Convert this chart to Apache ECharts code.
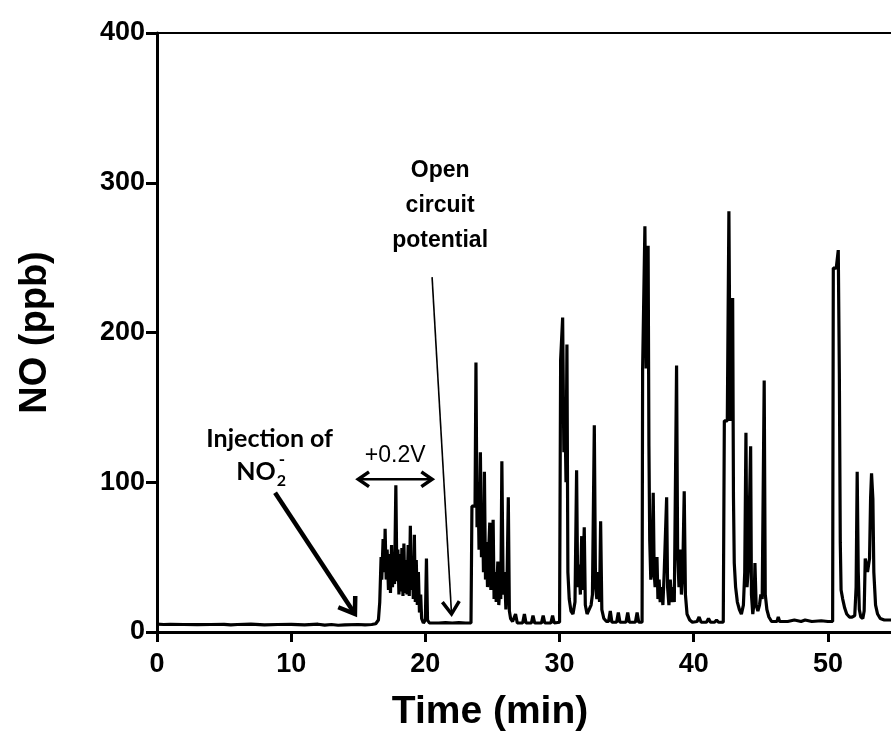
<!DOCTYPE html>
<html><head><meta charset="utf-8">
<script src="https://cdn.jsdelivr.net/npm/echarts@6/dist/echarts.min.js"></script>
<style>html,body{margin:0;padding:0;background:#fff}#c{width:891px;height:753px}</style>
</head><body><div id="c"></div>
<script>
// ---- data ----
const timeMin = [
0,0.5,1,2,3,4,5,5.5,6,7,8,9,10,11,12,12.5,13,13.5,14,15,15.5,16,16.3,16.5,
16.6,16.7,16.75,16.85,16.95,17.0,17.08,17.15,17.25,17.32,17.4,17.48,17.55,17.62,17.7,17.8,17.88,17.95,18.03,18.1,18.18,18.25,18.33,18.4,18.47,18.55,18.63,18.72,18.8,18.88,18.95,19.02,19.1,19.18,19.25,19.32,19.4,19.48,19.56,19.65,19.72,19.85,20.0,20.08,20.16,20.3,20.6,
21,21.5,22,22.5,23,23.4,
23.47,23.7,23.77,23.85,23.92,24.0,24.1,24.18,24.25,24.33,24.4,24.48,24.55,24.63,24.72,24.8,24.88,24.96,25.05,25.12,25.2,25.28,25.4,25.47,25.55,25.62,25.7,25.8,25.9,26.0,26.08,26.18,26.26,26.35,26.5,26.6,26.72,26.85,27.25,27.38,27.5,27.9,28.02,28.15,28.65,28.78,28.9,29.35,29.48,29.6,30.0,
30.08,30.23,30.32,30.4,30.48,30.55,30.62,30.72,30.85,31.0,31.15,31.27,31.35,31.45,31.55,31.65,31.72,31.84,31.92,32.05,32.2,32.35,32.45,32.59,32.68,32.78,32.88,32.98,33.06,33.15,33.3,33.5,33.65,33.78,33.9,34.25,34.38,34.5,34.95,35.08,35.2,35.65,35.78,35.9,36.15,
36.19,36.36,36.45,36.6,36.66,36.72,36.8,36.88,36.98,37.05,37.12,37.26,37.33,37.42,37.5,37.6,37.7,37.8,37.98,38.05,38.15,38.25,38.35,38.45,38.55,38.72,38.8,38.9,39.0,39.08,39.18,39.29,39.38,39.5,39.7,39.9,40.25,40.4,40.55,40.95,41.1,41.25,41.55,41.7,41.85,42.2,
42.28,42.5,42.62,42.72,42.8,42.9,42.96,43.02,43.12,43.25,43.4,43.55,43.7,43.8,43.89,43.97,44.05,44.13,44.24,44.3,44.4,44.5,44.56,44.65,44.78,44.9,45.0,45.1,45.25,45.33,45.45,45.6,45.8,46.2,46.3,46.4,47,47.5,48.0,48.3,48.8,49.5,50,50.35,
50.4,50.62,50.77,50.85,50.92,50.98,51.1,51.25,51.4,51.6,51.8,52.0,52.1,52.18,52.26,52.34,52.45,52.6,52.7,52.78,52.85,52.95,53.1,53.18,53.25,53.35,53.42,53.55,53.7,53.9,54.2,54.7
];
const noPpb = [
5.2,5,5.1,5,4.9,5,5.1,4.7,5,5.2,4.8,5,5.1,4.8,5.2,4.6,5,4.5,4.8,5,4.7,5,5.5,8,
20,50,35,62,40,69,35,55,28,52,26,58,30,50,32,98,34,55,25,52,27,56,24,59,26,48,25,58,24,71,28,50,22,65,20,48,18,40,13,25,9,6,8,49,8,6,6,
6,6.3,6,6.2,6,6,
84,84,180,70,100,55,120,50,85,40,107,35,60,30,55,73,28,50,75,22,40,20,47,18,30,22,114,25,40,15,30,90,14,9,7,6,12,6,6,12,6,6,11,6,6,11,6,6,11,6,6.5,
182,210,120,150,100,192,40,22,14,12,20,108,30,45,25,64,28,70,18,12,15,18,25,138,30,22,40,20,74,15,9,7,7,14,6.5,6.5,13,6.5,6.5,13,6.5,6.5,13,6.5,6.5,
176,271,176,258,124,61,35,40,93,40,30,50,22,35,20,30,18,40,90,30,18,35,20,30,20,178,53,30,55,25,40,94,25,12,8,6.5,7,10,6.5,6.5,9,6.5,6.5,8,6.5,6.5,
141,141,281,141,160,223,90,46,30,20,15,12,18,40,133,30,40,75,124,25,12,20,46,18,14,18,25,22,168,25,15,10,7,7,10,7,7,8,7,8,7,7.5,7,7,
243,243,255,173,60,28,22,16,12,10,10,11,30,107,40,15,10,9,14,49,49,40,49,90,106,89,40,18,12,9,8,8
];
const xTickValues = [0, 10, 20, 30, 40, 50];
const yTickValues = [0, 100, 200, 300, 400];
const xLabel = 'Time (min)';
const yLabel = 'NO (ppb)';
// annotation anchors in data units [time, NO]
const injTextAt = [8.4, 129];
const injSubAt = [8.4, 107];
const injArrow = [[8.8, 93], [14.75, 12]];
const biasTextAt = [17.75, 118];
const biasArrow = [[15.0, 102], [20.5, 102]];
const ocpLines = ['Open', 'circuit', 'potential'];
const ocpTextAt = [[21.1, 308], [21.1, 285], [21.1, 261]];
const ocpArrow = [[20.5, 237], [21.95, 12]];

const chart = echarts.init(document.getElementById('c'));
const FONT = 'Liberation Sans, Arial, sans-serif';
chart.setOption({
  animation: false,
  backgroundColor: '#fff',
  grid: { left: 157, right: 0, top: 33, bottom: 121, containLabel: false },
  xAxis: [{
    type: 'value', min: 0, max: 54.7, interval: 10,
    name: xLabel, nameLocation: 'middle', nameGap: 61,
    nameTextStyle: { fontFamily: FONT, fontWeight: 'bold', fontSize: 39, color: '#000', padding: [0, 68, 0, 0] },
    axisLine: { show: true, onZero: false, lineStyle: { color: '#000', width: 3 } },
    axisTick: { show: true, length: 10, customValues: xTickValues, lineStyle: { color: '#000', width: 3 } },
    axisLabel: { customValues: xTickValues, margin: 19, fontFamily: FONT, fontWeight: 'bold', fontSize: 27, color: '#000' },
    splitLine: { show: false }
  }, {
    type: 'value', position: 'top', min: 0, max: 54.7,
    axisLine: { show: true, onZero: false, lineStyle: { color: '#000', width: 2 } },
    axisTick: { show: false }, axisLabel: { show: false }, splitLine: { show: false }
  }],
  yAxis: {
    type: 'value', min: 0, max: 400, interval: 100,
    name: yLabel, nameLocation: 'middle', nameGap: 102,
    nameTextStyle: { fontFamily: FONT, fontWeight: 'bold', fontSize: 38, color: '#000' },
    axisLine: { show: true, onZero: false, lineStyle: { color: '#000', width: 3 } },
    axisTick: { show: true, length: 11, customValues: yTickValues, lineStyle: { color: '#000', width: 3 } },
    axisLabel: { customValues: yTickValues, margin: 12, fontFamily: FONT, fontWeight: 'bold', fontSize: 27, color: '#000' },
    splitLine: { show: false }
  },
  series: [{
    type: 'line', xAxisIndex: 0, yAxisIndex: 0,
    data: timeMin.map((t, i) => [t, noPpb[i]]),
    showSymbol: false, symbol: 'none', smooth: false,
    lineStyle: { color: '#000', width: 3.2 },
    clip: true
  }]
});

const P = (d) => chart.convertToPixel({ xAxisIndex: 0, yAxisIndex: 0 }, d);
function chevron(p0, p1, L, ang) {
  const a = Math.atan2(p1[1] - p0[1], p1[0] - p0[0]);
  return [[p1[0] - L * Math.cos(a - ang), p1[1] - L * Math.sin(a - ang)], p1,
          [p1[0] - L * Math.cos(a + ang), p1[1] - L * Math.sin(a + ang)]];
}
const g = [];
function arrowEls(a, b, w, L, hw, both) {
  const p0 = P(a), p1 = P(b);
  g.push({ type: 'line', shape: { x1: p0[0], y1: p0[1], x2: p1[0], y2: p1[1] }, style: { stroke: '#000', lineWidth: w }, z: 100 });
  g.push({ type: 'polyline', shape: { points: chevron(p0, p1, L, 0.6) }, style: { stroke: '#000', lineWidth: hw, fill: null, lineJoin: 'miter' }, z: 100 });
  if (both) g.push({ type: 'polyline', shape: { points: chevron(p1, p0, L, 0.6) }, style: { stroke: '#000', lineWidth: hw, fill: null, lineJoin: 'miter' }, z: 100 });
}
function text(at, s, font, align) {
  const p = P(at);
  g.push({ type: 'text', x: p[0], y: p[1], z: 100, style: { text: s, font: font, fill: '#000', align: align || 'center', verticalAlign: 'middle' } });
  return p;
}
const annFont = 'bold 25px Lato, "Open Sans", sans-serif';
text(injTextAt, 'Injection of', annFont);
const pn = P(injSubAt);
g.push({ type: 'text', x: pn[0] + 6, y: pn[1], z: 100, style: { text: 'NO', font: annFont, fill: '#000', align: 'right', verticalAlign: 'middle' } });
g.push({ type: 'text', x: pn[0] + 7, y: pn[1] + 9, z: 100, style: { text: '2', font: 'bold 16px Lato, sans-serif', fill: '#000', align: 'left', verticalAlign: 'middle' } });
g.push({ type: 'text', x: pn[0] + 9, y: pn[1] - 12, z: 100, style: { text: '-', font: 'bold 17px Lato, sans-serif', fill: '#000', align: 'left', verticalAlign: 'middle' } });
arrowEls(injArrow[0], injArrow[1], 4.5, 18, 4.5, false);
text(biasTextAt, '+0.2V', '23px "Liberation Sans", Arial, sans-serif');
arrowEls(biasArrow[0], biasArrow[1], 2.5, 13, 3.5, true);
ocpLines.forEach((s, i) => text(ocpTextAt[i], s, 'bold 23px "Liberation Sans", Arial, sans-serif'));
arrowEls(ocpArrow[0], ocpArrow[1], 1.6, 15, 3.5, false);
chart.setOption({ graphic: g });
</script>
</body></html>
